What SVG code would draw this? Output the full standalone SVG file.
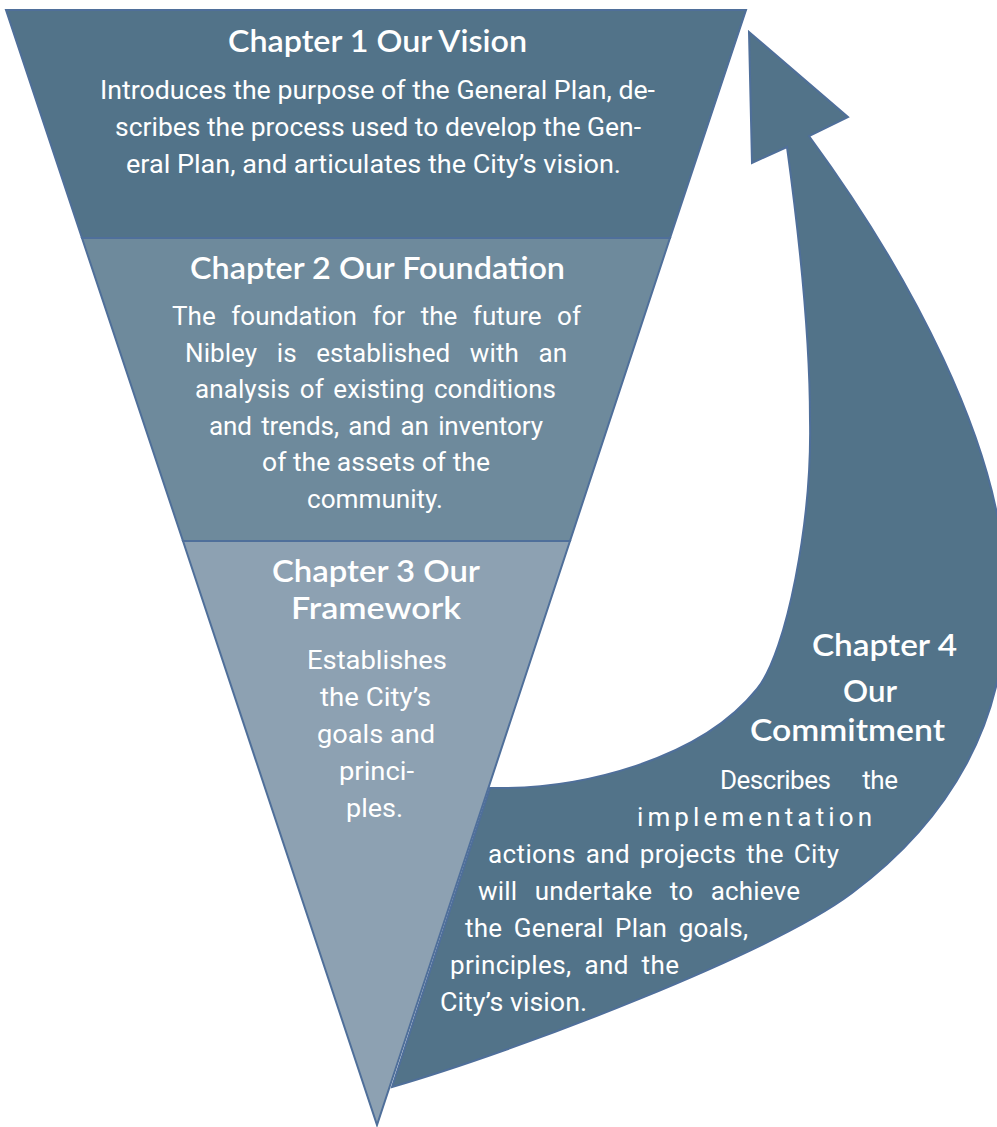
<svg xmlns="http://www.w3.org/2000/svg" width="997" height="1127" viewBox="0 0 997 1127">
<style>
.band{stroke:#4f6f9a;stroke-width:2;stroke-linejoin:miter}
.title{font-family:Lato,"Open Sans","Liberation Sans",sans-serif;font-weight:600;font-size:31px;fill:#ffffff}
.body{font-family:Roboto,"Liberation Sans",sans-serif;font-size:26px;fill:#ffffff}
.mid{text-anchor:middle}
</style>
<rect width="997" height="1127" fill="#ffffff"/>
<g id="connectors">
<path id="arrow4" class="band" fill="#527389" d="M749,32 L848,117 L809,136 C900,260 1010,450 1005,600 C1008,720 950,820 852,893 C772,953 520,1050 392,1087 L490,788 C580,790 700,760 757,689 C787,652 812,520 810,420 C810,330 797,220 787,147 L752,163 Z"/>
</g>
<g id="chapter1">
<polygon class="band" fill="#527389" points="6,10 746,10 670,238 82,238"/>
<text class="title" x="228" y="52" textLength="299" lengthAdjust="spacingAndGlyphs">Chapter 1 Our Vision</text>
<text class="body" x="100" y="99" textLength="555" lengthAdjust="spacingAndGlyphs">Introduces the purpose of the General Plan, de-</text>
<text class="body" x="115" y="136" textLength="526" lengthAdjust="spacingAndGlyphs">scribes the process used to develop the Gen-</text>
<text class="body" x="126" y="173" textLength="495" lengthAdjust="spacingAndGlyphs">eral Plan, and articulates the City’s vision.</text>
</g>
<g id="chapter2">
<polygon class="band" fill="#6e8a9c" points="82,238 670,238 570,541 183,541"/>
<text class="title" x="190" y="279" textLength="375" lengthAdjust="spacingAndGlyphs">Chapter 2 Our Foundation</text>
<text class="body" x="172" y="325" textLength="409" lengthAdjust="spacing" word-spacing="9">The foundation for the future of</text>
<text class="body" x="185" y="362" textLength="382" lengthAdjust="spacing" word-spacing="13">Nibley is established with an</text>
<text class="body" x="195" y="398" textLength="361" lengthAdjust="spacing" word-spacing="3">analysis of existing conditions</text>
<text class="body" x="209" y="435" textLength="334" lengthAdjust="spacing" word-spacing="3">and trends, and an inventory</text>
<text class="body" x="262" y="471" textLength="228" lengthAdjust="spacingAndGlyphs">of the assets of the</text>
<text class="body" x="307" y="508" textLength="136" lengthAdjust="spacingAndGlyphs">community.</text>
</g>
<g id="chapter3">
<polygon class="band" fill="#8da1b2" points="183,541 570,541 377,1125"/>
<text class="title" x="272" y="582" textLength="208" lengthAdjust="spacingAndGlyphs">Chapter 3 Our</text>
<text class="title" x="291" y="619" textLength="170" lengthAdjust="spacingAndGlyphs">Framework</text>
<text class="body" x="307" y="669" textLength="140" lengthAdjust="spacingAndGlyphs">Establishes</text>
<text class="body" x="320" y="706" textLength="111" lengthAdjust="spacingAndGlyphs">the City’s</text>
<text class="body" x="317" y="743" textLength="118" lengthAdjust="spacingAndGlyphs">goals and</text>
<text class="body" x="339" y="780" textLength="75" lengthAdjust="spacingAndGlyphs">princi-</text>
<text class="body" x="346" y="817" textLength="57" lengthAdjust="spacingAndGlyphs">ples.</text>
</g>
<g id="chapter4">
<text class="title" x="812" y="656" textLength="145" lengthAdjust="spacingAndGlyphs">Chapter 4</text>
<text class="title" x="843" y="702" textLength="54" lengthAdjust="spacingAndGlyphs">Our</text>
<text class="title" x="750" y="741" textLength="195" lengthAdjust="spacingAndGlyphs">Commitment</text>
<text class="body" x="720" y="789" textLength="178" lengthAdjust="spacing" word-spacing="26">Describes the</text>
<text class="body" x="637" y="826" textLength="235" lengthAdjust="spacing">implementation</text>
<text class="body" x="488" y="863" textLength="351" lengthAdjust="spacing" word-spacing="3">actions and projects the City</text>
<text class="body" x="478" y="900" textLength="322" lengthAdjust="spacing" word-spacing="11">will undertake to achieve</text>
<text class="body" x="465" y="937" textLength="283" lengthAdjust="spacing" word-spacing="5">the General Plan goals,</text>
<text class="body" x="450" y="974" textLength="229" lengthAdjust="spacing" word-spacing="6">principles, and the</text>
<text class="body" x="440" y="1011" textLength="147" lengthAdjust="spacingAndGlyphs">City’s vision.</text>
</g>
</svg>
